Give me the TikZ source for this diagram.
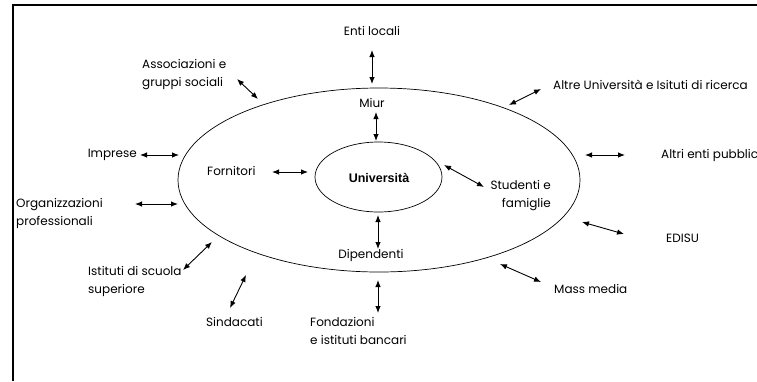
\documentclass[tikz,border=0pt]{standalone}
\usepackage{fontspec}
\setmainfont{Poppins}
\newfontfamily\unifont{Liberation Sans}
\usetikzlibrary{arrows.meta}
\tikzset{
  lbl/.style={inner sep=0pt, font=\fontsize{12}{18}\selectfont, align=left},
  rel/.style={{Latex[length=7pt,width=5.5pt]}-{Latex[length=7pt,width=5.5pt]}, line width=0.9pt}
}
\begin{document}
\begin{tikzpicture}[x=1pt,y=-1pt]
\useasboundingbox (0,0) rectangle (757,381);
\begin{scope}
\clip (0,0) rectangle (757,381);
% frame
\coordinate (fa) at (13,381);
\coordinate (fb) at (13,5);
\coordinate (fc) at (760,5);
\draw[line width=2pt] (fa) -- (fb) -- (fc);
% ellipses
\draw[line width=0.7pt] (379,180) ellipse [x radius=201, y radius=92];
\draw[line width=0.7pt] (378.5,177) ellipse [x radius=63.5, y radius=35];
\node[font=\unifont\fontsize{12.5}{14}\selectfont\bfseries, inner sep=0pt] (uni) at (379,178) {Università};
% labels
\node[lbl] (enti) at (372,31) {Enti locali};
\node[lbl, anchor=west] (assoc) at (142,75) {Associazioni e\\gruppi sociali};
\node[lbl] (miur) at (372,103) {Miur};
\node[lbl, anchor=east] (impr) at (137,155) {Imprese};
\node[lbl, anchor=west] (forn) at (207,171) {Fornitori};
\node[lbl, anchor=east, align=right] (stud) at (551,196) {Studenti e\\famiglie};
\node[lbl, anchor=west] (org) at (16,213) {Organizzazioni\\professionali};
\node[lbl] (dip) at (371,255) {Dipendenti};
\node[lbl, anchor=west] (ist) at (88,281) {Istituti di scuola\\superiore};
\node[lbl, anchor=west] (sind) at (206,322) {Sindacati};
\node[lbl, anchor=west] (fond) at (310,331) {Fondazioni\\e istituti bancari};
\node[lbl, anchor=west] (mass) at (554,289) {Mass media};
\node[lbl, anchor=west] (edisu) at (666,238) {EDISU};
\node[lbl, anchor=west] (altri) at (661,155) {Altri enti pubblici};
\node[lbl, anchor=west] (altre) at (553,85) {Altre Università e Isituti di ricerca};
% arrow end points
\coordinate (a1) at (372,50);   \coordinate (b1) at (372,84);
\coordinate (a2) at (376,112);  \coordinate (b2) at (376,141);
\coordinate (a3) at (237,79);   \coordinate (b3) at (258,99);
\coordinate (a4) at (140,155);  \coordinate (b4) at (179,155);
\coordinate (a5) at (272,172);  \coordinate (b5) at (308,172);
\coordinate (a6) at (509,105);  \coordinate (b6) at (541,89);
\coordinate (a7) at (585,155);  \coordinate (b7) at (625,155);
\coordinate (a8) at (444,165);  \coordinate (b8) at (484,187);
\coordinate (a9) at (135,204);  \coordinate (b9) at (178,204);
\coordinate (a10) at (378,215); \coordinate (b10) at (378,249);
\coordinate (a11) at (183,270); \coordinate (b11) at (212,242);
\coordinate (a12) at (230,308); \coordinate (b12) at (246,275);
\coordinate (a13) at (378,280); \coordinate (b13) at (378,313);
\coordinate (a14) at (500,264); \coordinate (b14) at (541,282);
\coordinate (a15) at (582,222); \coordinate (b15) at (624,234);
\foreach \i in {1,...,15} \draw[rel] (a\i) -- (b\i);
\end{scope}
\end{tikzpicture}
\end{document}
